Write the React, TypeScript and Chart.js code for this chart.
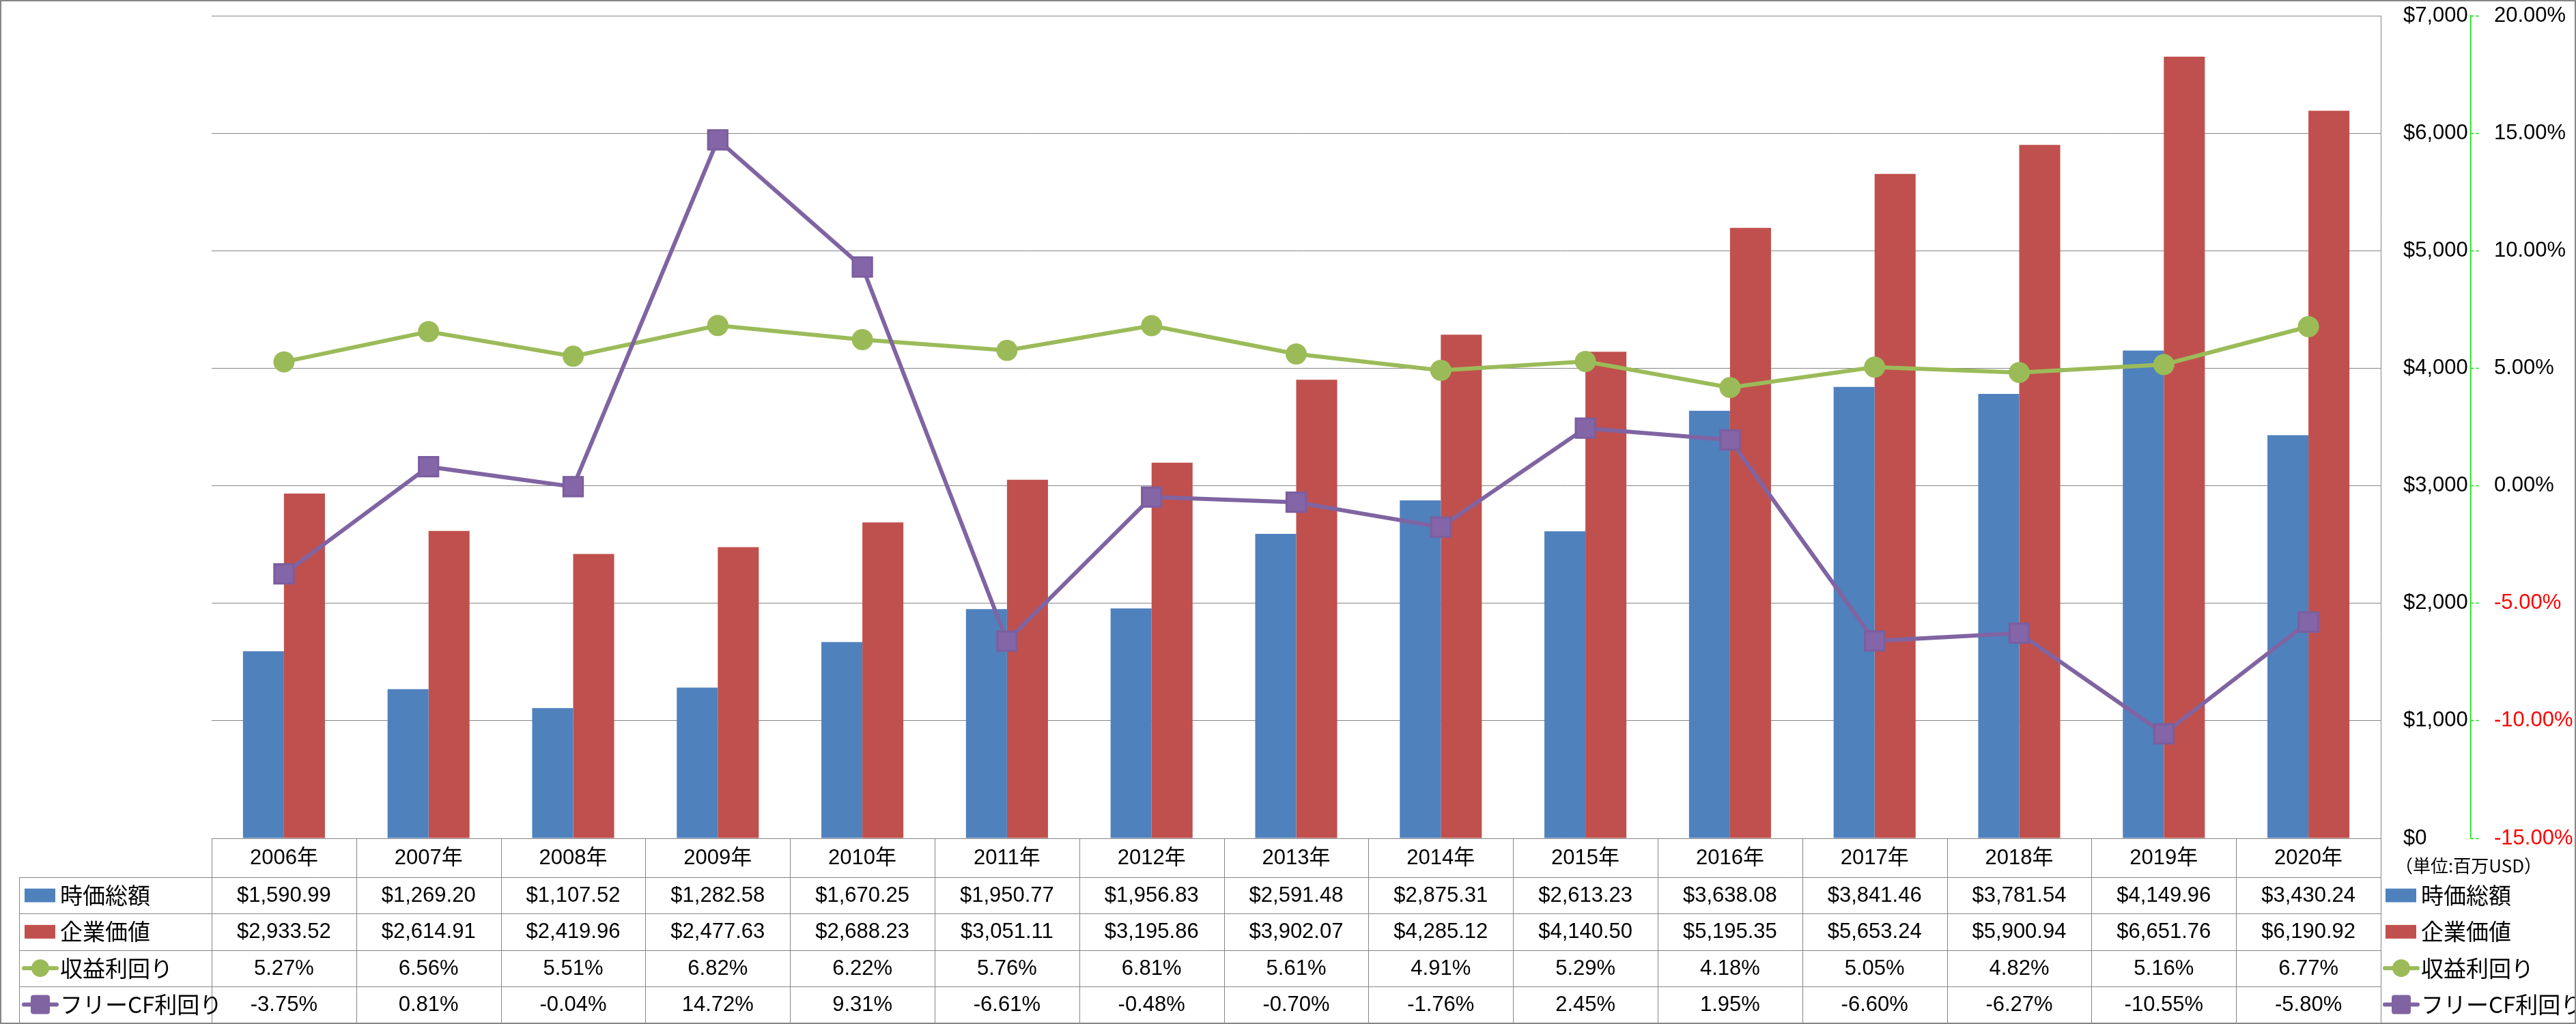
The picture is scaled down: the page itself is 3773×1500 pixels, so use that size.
import React, { useEffect, useRef } from 'react';
import { Chart, registerables } from 'chart.js';

Chart.register(...registerables);

// ---- data ----
const years = ['2006年', '2007年', '2008年', '2009年', '2010年', '2011年', '2012年', '2013年', '2014年', '2015年', '2016年', '2017年', '2018年', '2019年', '2020年'];
const marketCap = [1590.99, 1269.2, 1107.52, 1282.58, 1670.25, 1950.77, 1956.83, 2591.48, 2875.31, 2613.23, 3638.08, 3841.46, 3781.54, 4149.96, 3430.24];
const enterpriseValue = [2933.52, 2614.91, 2419.96, 2477.63, 2688.23, 3051.11, 3195.86, 3902.07, 4285.12, 4140.5, 5195.35, 5653.24, 5900.94, 6651.76, 6190.92];
const earningsYield = [5.27, 6.56, 5.51, 6.82, 6.22, 5.76, 6.81, 5.61, 4.91, 5.29, 4.18, 5.05, 4.82, 5.16, 6.77];
const fcfYield = [-3.75, 0.81, -0.04, 14.72, 9.31, -6.61, -0.48, -0.7, -1.76, 2.45, 1.95, -6.6, -6.27, -10.55, -5.8];

const seriesNames = ['時価総額', '企業価値', '収益利回り', 'フリーCF利回り'];
const unitLabel = '（単位:百万USD）';

const dollarAxis = { min: 0, max: 7000, step: 1000 };
const percentAxis = { min: -15, max: 20, step: 5 };

// ---- styles ----
const W = 3773;
const H = 1500;
const LATIN = "'Liberation Sans', 'Noto Sans CJK JP', sans-serif";
const CJK = "'Noto Sans CJK JP', 'Liberation Sans', sans-serif";
const BLUE = '#4F81BD';
const RED = '#C0504D';
const GREEN = '#9BBB59';
const PURPLE = '#8064A2';
const GRID = '#868686';

const money = (v: number) =>
  '$' + v.toLocaleString('en-US', { minimumFractionDigits: 2, maximumFractionDigits: 2 });
const pct = (v: number) => v.toFixed(2) + '%';

export default function App() {
  const ref = useRef<HTMLCanvasElement>(null);

  useEffect(() => {
    const canvas = ref.current;
    if (!canvas) return;

    const rows = [
      { label: seriesNames[0], values: marketCap, fmt: money, kind: 'bar', color: BLUE },
      { label: seriesNames[1], values: enterpriseValue, fmt: money, kind: 'bar', color: RED },
      { label: seriesNames[2], values: earningsYield, fmt: pct, kind: 'circle', color: GREEN },
      { label: seriesNames[3], values: fcfYield, fmt: pct, kind: 'square', color: PURPLE },
    ];

    const drawMarker = (ctx: CanvasRenderingContext2D, kind: string, color: string, x0: number, cy: number) => {
      ctx.fillStyle = color;
      ctx.strokeStyle = color;
      if (kind === 'bar') {
        ctx.fillRect(x0 + 2, cy - 10, 45, 20);
      } else {
        ctx.lineWidth = 6;
        ctx.lineCap = 'round';
        ctx.beginPath();
        ctx.moveTo(x0 + 1, cy);
        ctx.lineTo(x0 + 49, cy);
        ctx.stroke();
        const cx = x0 + 25;
        if (kind === 'circle') {
          ctx.beginPath();
          ctx.arc(cx, cy, 13, 0, Math.PI * 2);
          ctx.fill();
        } else {
          ctx.beginPath();
          const s = 28, r = 4;
          const l = cx - s / 2, t = cy - s / 2;
          ctx.moveTo(l + r, t);
          ctx.arcTo(l + s, t, l + s, t + s, r);
          ctx.arcTo(l + s, t + s, l, t + s, r);
          ctx.arcTo(l, t + s, l, t, r);
          ctx.arcTo(l, t, l + s, t, r);
          ctx.closePath();
          ctx.fill();
        }
      }
    };

    const tablePlugin = {
      id: 'dataTable',
      afterDraw(chart: any) {
        const { ctx, chartArea, scales } = chart;
        const xs = scales.x;
        const catW = xs.getPixelForValue(1) - xs.getPixelForValue(0);
        const left = chartArea.left;
        const right = chartArea.right;
        const top = chartArea.bottom;
        const headerBottom = top + 57;
        const tableBottom = 1498;
        const rowH = (tableBottom - headerBottom) / rows.length;
        const labelLeft = 28;

        ctx.save();
        ctx.strokeStyle = GRID;
        ctx.lineWidth = 1;
        const hline = (y: number, x1: number, x2: number) => {
          ctx.beginPath();
          ctx.moveTo(x1, Math.round(y) + 0.5);
          ctx.lineTo(x2, Math.round(y) + 0.5);
          ctx.stroke();
        };
        const vline = (x: number, y1: number, y2: number) => {
          ctx.beginPath();
          ctx.moveTo(Math.round(x) + 0.5, y1);
          ctx.lineTo(Math.round(x) + 0.5, y2);
          ctx.stroke();
        };
        hline(top, left, right);
        for (let r = 0; r <= rows.length; r++) {
          hline(headerBottom + r * rowH, labelLeft, right);
        }
        for (let i = 0; i <= years.length; i++) {
          vline(left + i * catW, top, tableBottom);
        }
        vline(labelLeft, headerBottom, tableBottom);

        ctx.fillStyle = '#000';
        ctx.textAlign = 'center';
        ctx.textBaseline = 'middle';
        ctx.font = `31px ${LATIN}`;
        years.forEach((y, i) => {
          ctx.fillText(y, xs.getPixelForValue(i), (top + headerBottom) / 2 + 1);
        });

        rows.forEach((row, r) => {
          const cy = headerBottom + r * rowH + rowH / 2;
          ctx.fillStyle = '#000';
          ctx.textAlign = 'center';
          ctx.font = `31px ${LATIN}`;
          row.values.forEach((v, i) => {
            ctx.fillText(row.fmt(v), xs.getPixelForValue(i), cy + 1);
          });
          // left labels
          drawMarker(ctx, row.kind, row.color, 34, cy);
          ctx.fillStyle = '#000';
          ctx.textAlign = 'left';
          ctx.font = `33px ${CJK}`;
          ctx.fillText(row.label, 88, cy);
          // right legend
          drawMarker(ctx, row.kind, row.color, 3492, cy);
          ctx.fillStyle = '#000';
          ctx.fillText(row.label, 3546, cy);
        });

        // unit label
        ctx.fillStyle = '#000';
        ctx.textAlign = 'left';
        ctx.font = `26px ${CJK}`;
        ctx.fillText(unitLabel, 3508, (top + headerBottom) / 2 + 12);

        // outer border
        ctx.strokeStyle = GRID;
        ctx.lineWidth = 2;
        ctx.strokeRect(1, 1, W - 2, H - 2);
        ctx.restore();
      },
    };

    const chart = new Chart(canvas, {
      type: 'bar',
      data: {
        labels: years,
        datasets: [
          {
            type: 'line',
            label: seriesNames[2],
            data: earningsYield,
            yAxisID: 'y1',
            borderColor: GREEN,
            backgroundColor: GREEN,
            borderWidth: 6,
            tension: 0,
            pointStyle: 'circle',
            pointRadius: 15.5,
            pointBorderWidth: 0,
            pointBackgroundColor: GREEN,
            order: 1,
          } as any,
          {
            type: 'line',
            label: seriesNames[3],
            data: fcfYield,
            yAxisID: 'y1',
            borderColor: PURPLE,
            backgroundColor: PURPLE,
            borderWidth: 6,
            tension: 0,
            pointStyle: 'rect',
            pointRadius: 20,
            pointBorderWidth: 3,
            pointBorderColor: '#7B5E9E',
            pointBackgroundColor: '#8466A8',
            order: 0,
          } as any,
          {
            type: 'bar',
            label: seriesNames[0],
            data: marketCap,
            yAxisID: 'y',
            backgroundColor: BLUE,
            categoryPercentage: 0.567,
            barPercentage: 1,
            order: 2,
          },
          {
            type: 'bar',
            label: seriesNames[1],
            data: enterpriseValue,
            yAxisID: 'y',
            backgroundColor: RED,
            categoryPercentage: 0.567,
            barPercentage: 1,
            order: 2,
          },
        ],
      },
      options: {
        animation: false,
        responsive: false,
        devicePixelRatio: 1,
        events: [],
        layout: { padding: { left: 310, top: 22, right: 0, bottom: 272 } },
        plugins: {
          legend: { display: false },
          tooltip: { enabled: false },
          title: { display: false },
        },
        scales: {
          x: { display: false, offset: true },
          y: {
            position: 'right',
            min: dollarAxis.min,
            max: dollarAxis.max,
            ticks: {
              stepSize: dollarAxis.step,
              padding: 33,
              color: '#000',
              font: { family: LATIN, size: 31 },
              callback: (v: any) => '$' + Number(v).toLocaleString('en-US'),
            },
            grid: { color: GRID, lineWidth: 1, drawTicks: false },
            border: { display: true, color: GRID, width: 1 },
            afterFit: (s: any) => {
              s.width = 132;
              s.paddingTop = 0;
              s.paddingBottom = 0;
            },
          },
          y1: {
            position: 'right',
            min: percentAxis.min,
            max: percentAxis.max,
            ticks: {
              stepSize: percentAxis.step,
              padding: 22,
              color: (c: any) => (c.tick && c.tick.value < 0 ? '#FF0000' : '#000'),
              font: { family: LATIN, size: 31 },
              callback: (v: any) => Number(v).toFixed(2) + '%',
            },
            grid: {
              drawOnChartArea: false,
              drawTicks: true,
              tickLength: 12,
              tickColor: '#00E000',
              tickWidth: 1.5,
              tickBorderDash: [4, 3],
            },
            border: { display: true, color: '#00E000', width: 1.5, dash: [4, 3] },
            afterFit: (s: any) => {
              s.width = 154;
              s.paddingTop = 0;
              s.paddingBottom = 0;
            },
          },
        },
      },
      plugins: [tablePlugin],
    });

    return () => chart.destroy();
  }, []);

  return (
    <div style={{ position: 'fixed', left: 0, top: 0, width: W, height: H, background: '#fff' }}>
      <canvas ref={ref} width={W} height={H} style={{ display: 'block', width: W, height: H }} />
    </div>
  );
}
